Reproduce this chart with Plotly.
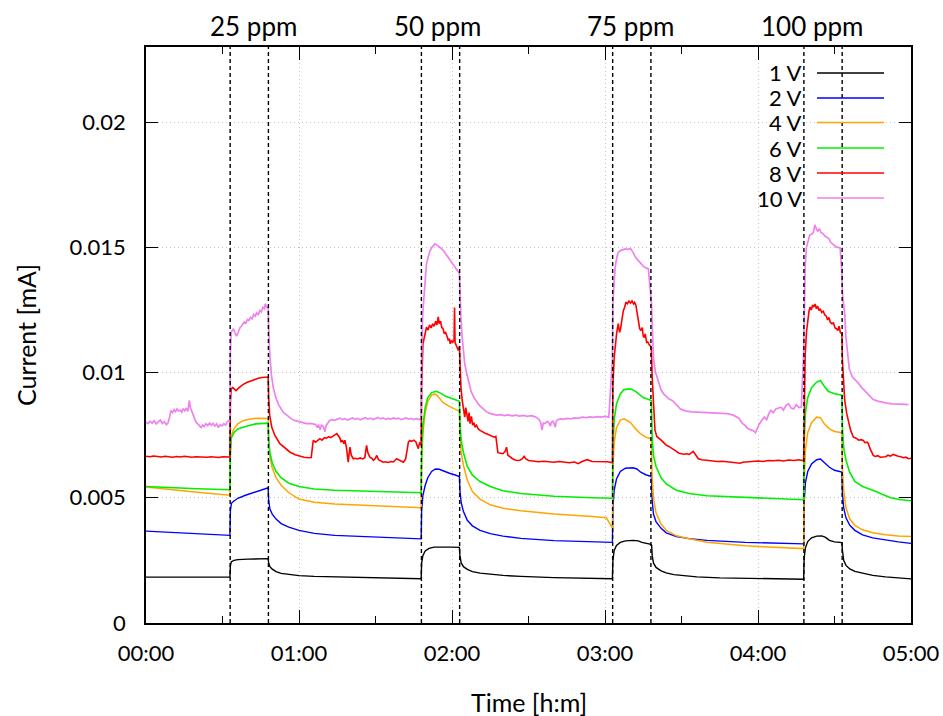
import plotly.graph_objects as go

# Time axis in minutes since start, currents in microamps (converted to mA for plotting)
t_1v = [0, 10, 20, 32.9, 33.1, 33.5, 34.5, 36, 40, 44, 47.9,
        48.1, 48.6, 49.5, 51, 53, 56, 60, 66, 76, 90, 107.9,
        108.1, 108.6, 109.5, 111, 113, 117, 120, 122.9,
        123.1, 123.6, 124.5, 126, 128, 131, 135, 140, 147, 160, 182.9,
        183.1, 183.6, 184.5, 186, 188, 191, 193, 194.5, 196, 198, 198.3,
        198.5, 199, 200, 202, 204, 207, 211, 216, 225, 240, 257.9,
        258.1, 258.6, 259.5, 261, 263, 265, 266.5, 268, 270, 272.9,
        273.1, 273.6, 274.5, 276, 278, 281, 285, 290, 295, 300]
i_1v = [1.83, 1.83, 1.83, 1.83, 2.30, 2.45, 2.50, 2.53, 2.55, 2.57, 2.57,
        2.40, 2.25, 2.15, 2.05, 1.98, 1.93, 1.89, 1.86, 1.84, 1.80, 1.77,
        2.40, 2.70, 2.88, 2.98, 3.03, 3.04, 3.03, 3.02,
        2.70, 2.40, 2.25, 2.14, 2.05, 1.99, 1.94, 1.90, 1.86, 1.81, 1.77,
        2.50, 2.90, 3.10, 3.22, 3.28, 3.30, 3.28, 3.22, 3.18, 3.14, 3.10,
        2.70, 2.40, 2.22, 2.08, 2.00, 1.93, 1.88, 1.84, 1.80, 1.77, 1.75,
        2.60, 3.00, 3.25, 3.40, 3.47, 3.48, 3.42, 3.30, 3.24, 3.21,
        2.90, 2.50, 2.30, 2.16, 2.06, 1.98, 1.90, 1.84, 1.79, 1.76]

t_2v = [0, 10, 20, 32.9, 33.1, 33.5, 34.5, 36, 39, 42, 45, 47.9,
        48.1, 48.6, 49.5, 51, 53, 56, 60, 66, 74, 90, 107.9,
        108.1, 108.6, 109.5, 110.5, 112, 113.5, 115, 117, 119, 121, 122.9,
        123.1, 123.6, 124.5, 126, 128, 131, 135, 140, 147, 160, 182.9,
        183.1, 183.6, 184.5, 186, 188, 191, 192.5, 194, 196, 198.2,
        198.5, 199, 200, 202, 204, 208, 213, 220, 235, 257.9,
        258.1, 258.6, 259.5, 261, 263, 264.5, 266, 268, 270, 272.9,
        273.1, 273.6, 274.5, 276, 278, 281, 285, 290, 295, 300]
i_2v = [3.67, 3.61, 3.56, 3.50, 4.50, 4.78, 4.87, 4.98, 5.10, 5.20, 5.30, 5.40,
        4.90, 4.55, 4.35, 4.15, 3.97, 3.83, 3.70, 3.58, 3.50, 3.42, 3.36,
        4.50, 5.10, 5.50, 5.80, 6.05, 6.15, 6.14, 6.05, 5.98, 5.92, 5.85,
        5.30, 4.80, 4.45, 4.10, 3.88, 3.70, 3.57, 3.47, 3.38, 3.29, 3.22,
        4.60, 5.30, 5.75, 6.05, 6.18, 6.20, 6.15, 6.02, 5.92, 5.85,
        4.90, 4.35, 4.05, 3.78, 3.60, 3.45, 3.37, 3.30, 3.22, 3.16,
        4.80, 5.60, 6.05, 6.35, 6.52, 6.55, 6.42, 6.22, 6.10, 6.03,
        5.20, 4.60, 4.20, 3.90, 3.70, 3.52, 3.40, 3.31, 3.24, 3.18]

t_4v = [0, 10, 20, 32.9, 33.1, 33.5, 34.5, 36, 38, 41, 44, 47.9,
        48.1, 48.6, 49.5, 51, 53, 56, 60, 66, 74, 90, 107.9,
        108.1, 108.6, 109.5, 110.5, 112, 113.3, 114.5, 116.5, 119, 121, 122.9,
        123.1, 123.6, 124.5, 126, 128, 131, 135, 140, 147, 160, 175, 180.5, 182, 182.9,
        183.1, 183.6, 184.5, 186, 187.5, 190, 192, 194, 196, 198.2,
        198.5, 199, 200, 202, 204, 208, 213, 220, 235, 257.9,
        258.1, 258.6, 259.5, 261, 263, 264.5, 266, 268, 270, 272.9,
        273.1, 273.6, 274.5, 276, 278, 281, 285, 290, 295, 300]
i_4v = [5.43, 5.32, 5.22, 5.10, 6.90, 7.50, 7.75, 7.95, 8.08, 8.15, 8.18, 8.17,
        7.30, 6.60, 6.20, 5.80, 5.50, 5.20, 4.95, 4.82, 4.75, 4.68, 4.60,
        6.50, 7.60, 8.40, 8.85, 9.10, 9.15, 9.05, 8.80, 8.65, 8.55, 8.45,
        7.60, 6.80, 6.30, 5.70, 5.25, 4.95, 4.72, 4.58, 4.48, 4.35, 4.25, 4.20, 3.95, 3.80,
        6.20, 7.20, 7.80, 8.10, 8.15, 8.00, 7.75, 7.55, 7.42, 7.35,
        5.80, 5.00, 4.40, 3.95, 3.70, 3.48, 3.36, 3.22, 3.08, 2.97,
        5.60, 6.90, 7.60, 8.00, 8.22, 8.20, 7.95, 7.75, 7.65, 7.60,
        6.20, 5.30, 4.60, 4.15, 3.90, 3.72, 3.60, 3.52, 3.47, 3.45]

t_6v = [0, 10, 20, 32.9, 33.1, 33.5, 34.5, 36, 39, 43, 47.9,
        48.1, 48.6, 49.5, 51, 53, 56, 60, 66, 74, 90, 107.9,
        108.1, 108.6, 109.5, 110.5, 112, 113.8, 115.5, 117.5, 119.5, 121, 122.9,
        123.1, 123.6, 124.5, 126, 128, 131, 135, 140, 147, 160, 175, 182.9,
        183.1, 183.6, 184.5, 186, 187.5, 190, 192, 193.5, 195, 198.2,
        198.5, 199, 200, 202, 204, 208, 213, 220, 230, 245, 257.9,
        258.1, 258.6, 259.5, 261, 263, 264.5, 266, 267.5, 270, 272.9,
        273.1, 273.6, 274.5, 276, 278, 281, 285, 288, 292, 296, 300]
i_6v = [5.45, 5.40, 5.36, 5.32, 6.80, 7.40, 7.60, 7.75, 7.85, 7.95, 7.98,
        7.30, 6.80, 6.40, 6.05, 5.80, 5.58, 5.45, 5.35, 5.30, 5.25, 5.20,
        6.80, 7.90, 8.60, 9.00, 9.20, 9.25, 9.18, 9.05, 8.98, 8.92, 8.85,
        8.00, 7.30, 6.80, 6.25, 5.90, 5.65, 5.45, 5.28, 5.17, 5.06, 5.00, 4.98,
        7.00, 8.10, 8.75, 9.15, 9.32, 9.35, 9.25, 9.12, 9.00, 8.88,
        7.40, 6.70, 6.25, 5.80, 5.55, 5.30, 5.17, 5.08, 5.03, 4.98, 4.92,
        7.20, 8.40, 9.00, 9.40, 9.62, 9.68, 9.45, 9.25, 9.15, 9.10,
        7.80, 7.00, 6.50, 6.00, 5.65, 5.45, 5.30, 5.18, 5.00, 4.92, 4.88]

t_8v = [0, 1.5, 3, 4.5, 6, 7.5, 9, 10.5, 12, 13.5, 15, 16.5, 18, 19.5, 21, 22.5,
        24, 25.5, 27, 28.5, 30, 31.5, 32.9,
        33.1, 33.4, 34, 35.3, 36.5, 38, 39.5, 41, 42.5, 44, 45.5, 47, 47.9,
        48.1, 48.5, 49.3, 50.5, 52.5, 54.5, 56.5, 58.5, 60.4, 62, 63.5, 64.8,
        65.3, 65.6, 66.5, 67.3, 68.2, 69, 70, 70.8, 71.7, 72.5, 73.5, 74.2, 74.8,
        75.4, 76, 76.5, 77, 77.6, 78, 78.6, 79.3, 79.7, 80, 80.5, 81.3, 82, 83,
        84, 85, 85.8, 86.5, 87, 87.8, 88.5, 89.2, 90, 90.5, 91.2, 92, 93, 94, 95,
        96, 97, 98.3, 99.2, 100, 101, 101.8, 102.4, 102.9, 103.5, 104.2, 105,
        105.8, 106.3, 106.8, 107.2, 107.5, 107.9,
        108.1, 108.6, 109.2, 110, 110.6, 111.2, 111.8, 112.4, 113, 113.6, 114.1,
        114.6, 115, 115.5, 116, 116.5, 117, 117.5, 118, 118.5, 119, 119.3, 119.8,
        120.3, 120.8, 121, 121.2, 121.7, 122.2, 122.5, 122.9,
        123.1, 123.5, 124, 124.5, 125, 125.4, 125.8, 126.3, 126.7, 127.1, 127.6,
        128.1, 128.6, 129, 129.6, 130.3, 131, 132, 133, 133.6, 134.5, 135.5,
        136.5, 137.2, 137.6, 138, 139, 140, 140.8, 141.4, 141.9, 142.7, 143.5,
        144.5, 145.5, 146.6, 147.5, 148.3, 148.9, 150, 152, 154, 156, 158, 160,
        162, 164, 166, 168, 169.5, 171, 173, 175, 177, 179, 181, 182.9,
        183.1, 183.6, 184.1, 184.6, 185.2, 185.7, 186.1, 186.6, 187.2, 187.7,
        188.2, 188.8, 189.4, 190, 190.6, 191.2, 191.6, 192.1, 192.6, 193.2,
        193.6, 194.1, 194.6, 195, 195.4, 195.8, 196.3, 196.8, 197.3, 197.8, 198.2,
        198.5, 199, 199.6, 200.3, 201, 202, 203, 204, 205, 206, 207, 208, 209,
        210, 211, 212, 213, 214, 214.6, 215.3, 216.6, 218, 219.5, 221, 222.5,
        224, 226, 228, 230, 232, 233, 234, 236, 238, 240, 242, 244, 246, 248,
        250, 252, 254, 256, 257.9,
        258.1, 258.5, 259, 259.5, 260, 260.4, 260.9, 261.4, 261.9, 262.4, 262.9,
        263.4, 263.9, 264.4, 265, 265.6, 266.2, 266.8, 267.3, 267.8, 268.4, 269,
        269.6, 270.2, 270.8, 271.3, 271.8, 272.3, 272.9,
        273.1, 273.5, 274, 274.8, 275.5, 276.3, 277.4, 278.5, 279.5, 280.5,
        281.3, 282, 282.8, 283.3, 284, 284.6, 285.2, 286, 287, 288, 289, 290,
        291, 292, 293, 294, 295, 296, 297, 298, 299, 300]
i_8v = [6.66, 6.64, 6.67, 6.65, 6.63, 6.66, 6.64, 6.62, 6.65, 6.63, 6.66, 6.64,
        6.62, 6.64, 6.63, 6.65, 6.62, 6.64, 6.63, 6.61, 6.64, 6.62, 6.63,
        8.80, 9.35, 9.40, 9.28, 9.40, 9.52, 9.60, 9.66, 9.72, 9.77, 9.80, 9.83, 9.82,
        9.00, 8.30, 7.82, 7.50, 7.16, 6.97, 6.82, 6.72, 6.65, 6.62, 6.60, 6.61,
        7.05, 7.29, 7.22, 7.30, 7.36, 7.30, 7.40, 7.38, 7.44, 7.40, 7.49, 7.52, 7.56,
        7.45, 7.40, 7.22, 7.30, 7.16, 7.30, 7.00, 6.42, 6.80, 7.02, 6.70, 6.56, 6.58, 6.55,
        6.59, 6.55, 6.60, 7.09, 6.80, 6.62, 6.58, 6.50, 6.58, 6.69, 6.52, 6.48, 6.42, 6.44, 6.41,
        6.45, 6.43, 6.56, 6.50, 6.47, 6.42, 6.55, 6.90, 7.22, 7.29, 7.25, 7.30,
        7.24, 7.10, 6.96, 7.15, 7.22, 7.10,
        9.50, 11.15, 11.50, 11.81, 11.70, 11.90, 11.78, 11.95, 11.85, 12.05, 11.90,
        12.22, 11.95, 12.05, 11.80, 11.75, 11.55, 11.60, 11.46, 11.30, 11.35, 11.15, 11.28,
        11.20, 11.30, 12.60, 11.20, 11.10, 11.00, 10.88, 11.05,
        10.20, 9.42, 8.90, 8.50, 8.22, 8.60, 8.30, 8.05, 8.40, 7.96, 8.25,
        7.90, 8.00, 7.82, 7.90, 7.75, 7.69, 7.62, 7.58, 7.56, 7.52, 7.45,
        7.42, 7.45, 7.05, 6.80, 6.78, 6.76, 6.85, 7.02, 6.70, 6.62, 6.58,
        6.52, 6.49, 6.50, 6.55, 6.65, 6.56, 6.49, 6.46, 6.44, 6.46, 6.43, 6.42,
        6.45, 6.43, 6.40, 6.43, 6.36, 6.45, 6.52, 6.45, 6.44, 6.42, 6.44, 6.40,
        9.50, 10.60, 11.15, 11.60, 11.95, 11.60, 11.75, 12.20, 12.48, 12.60,
        12.81, 12.75, 12.85, 12.78, 12.86, 12.74, 12.80, 12.70, 12.30, 12.00,
        11.75, 11.68, 11.80, 11.45, 11.40, 11.55, 11.20, 11.22, 11.12, 11.08, 11.01,
        9.80, 8.60, 7.70, 7.45, 7.40, 7.30, 7.20, 7.10, 7.05, 7.00, 6.92, 6.85, 6.78,
        6.76, 6.74, 6.76, 6.73, 6.80, 6.85, 6.75, 6.56, 6.52, 6.50, 6.47, 6.48,
        6.45, 6.46, 6.44, 6.43, 6.41, 6.38, 6.42, 6.44, 6.46, 6.47, 6.45, 6.49, 6.48, 6.50,
        6.47, 6.51, 6.49, 6.52, 6.48,
        9.00, 10.70, 11.60, 12.10, 12.45, 12.61, 12.50, 12.70, 12.62, 12.74, 12.55,
        12.65, 12.48, 12.55, 12.40, 12.45, 12.30, 12.25, 12.10, 12.20, 12.00, 11.95,
        11.98, 11.78, 11.75, 11.68, 11.85, 11.60, 11.55,
        10.50, 9.50, 8.90, 8.36, 8.00, 7.70, 7.42, 7.38, 7.30, 7.32,
        7.29, 7.20, 7.22, 7.16, 6.95, 6.78, 6.69, 6.65, 6.68, 6.62, 6.62, 6.64,
        6.70, 6.66, 6.73, 6.68, 6.66, 6.64, 6.60, 6.62, 6.56, 6.58]

t_10v = [0, 0.8, 1.6, 2.4, 3.2, 4, 4.8, 5.6, 6.4, 7.2, 8, 8.6, 9.2, 9.8, 10.4,
         11, 11.6, 12.2, 12.8, 13.4, 14, 14.6, 15.2, 15.8, 16.4, 17, 17.4, 17.8,
         18.3, 18.9, 19.6, 20.3, 21, 21.6, 22.2, 22.8, 23.5, 24.2, 24.9, 25.6,
         26.3, 27, 27.7, 28.4, 29.1, 29.8, 30.5, 31.2, 31.8, 32.5, 32.9,
         33.1, 33.4, 33.8, 34.3, 34.8, 35.5, 36.2, 36.8, 37.4, 38, 38.6, 39.2,
         39.8, 40.4, 41, 41.6, 42.2, 42.8, 43.4, 44, 44.6, 45.2, 45.8, 46.4,
         46.8, 47.3, 47.9,
         48.1, 48.6, 49.2, 50, 51, 52, 53, 54, 55.5, 57, 58.5, 60, 61.6, 63,
         64.5, 65.6, 66.5, 67.2, 67.6, 68.3, 68.8, 69.5, 70.2, 70.6, 71.3, 72,
         73, 74, 75, 76, 77, 78, 79, 80, 81, 82, 83, 84, 85, 86, 87, 88, 89, 90,
         91, 92, 93, 94, 95, 96, 97, 98, 99, 100, 101, 102, 103, 104, 105, 106,
         107, 107.9,
         108.1, 108.5, 109, 109.5, 110, 110.7, 111.4, 112.3, 113.3, 114.3, 115.3,
         116.2, 117.1, 118, 119, 120, 120.5, 121.5, 122.3, 122.9,
         123.1, 123.5, 124, 124.5, 125, 125.8, 126.5, 127.5, 128.5, 129.5, 130.5,
         131.5, 132.5, 133.5, 134.5, 136, 137.5, 139, 140.5, 142, 143.5, 145,
         146.5, 148, 149.5, 151, 152.5, 153.5, 154.3, 154.8, 155.3, 155.8, 156.5,
         157.3, 158, 158.6, 159, 159.7, 160.5, 161, 161.5, 162.5, 163.6, 165,
         166.5, 168, 169.5, 171, 172.7, 174, 175.5, 177, 178.5, 180, 181.5, 182.9,
         183.1, 183.6, 184, 184.6, 185.2, 186, 187.2, 188, 189, 190, 191, 192,
         193, 194, 195, 196, 197, 198.2,
         198.5, 199, 199.7, 200.4, 201, 202, 203, 204, 205, 206.5, 208, 209.5,
         210.7, 212, 214, 216, 218, 220, 222, 224, 226, 228, 230.3, 231.5, 232.5,
         233.3, 234, 235, 236, 237, 238, 239, 239.5, 240, 240.5, 241.5, 242.5,
         243.4, 244.2, 245, 246, 247, 248, 249, 250, 251, 252, 253, 254, 255,
         256, 257, 257.9,
         258.1, 258.5, 259, 259.7, 260.3, 261, 261.7, 262.3, 263, 263.5, 264,
         264.8, 265.5, 266.2, 267, 267.8, 268.5, 269.3, 270, 270.6, 271.4, 272.2,
         272.9,
         273.1, 273.5, 274, 274.5, 275.2, 275.8, 277, 279, 280.5, 282.6, 284,
         285.2, 287, 288.5, 290.5, 292.5, 294.4, 296, 297.5, 299, 300]
i_10v = [8.02, 7.96, 8.06, 7.98, 8.08, 7.95, 8.03, 8.10, 7.97, 8.04, 7.92, 7.98,
         8.20, 8.49, 8.40, 8.52, 8.44, 8.55, 8.46, 8.50, 8.42, 8.56, 8.47, 8.58,
         8.45, 8.89, 8.60, 8.50, 8.36, 8.20, 8.02, 7.95, 7.88, 7.80, 7.90, 7.84,
         7.96, 7.88, 7.98, 7.90, 7.97, 7.86, 7.95, 7.80, 7.92, 7.87, 7.96, 7.90,
         8.02, 8.09, 8.12,
         10.80, 11.60, 11.68, 11.75, 11.60, 11.45, 11.62, 11.78, 11.85, 11.95,
         12.02, 11.98, 12.12, 12.08, 12.20, 12.15, 12.32, 12.25, 12.38, 12.30,
         12.48, 12.42, 12.60, 12.55, 12.75, 12.60, 12.62,
         11.80, 10.62, 9.90, 9.35, 8.98, 8.72, 8.55, 8.40, 8.28, 8.15, 8.08, 8.04,
         7.98, 7.96, 7.97, 7.95, 7.93, 7.80, 7.92, 7.72, 7.90, 7.85, 7.64, 7.88,
         7.97, 8.09,
         8.12, 8.09, 8.14, 8.18, 8.12, 8.16, 8.10, 8.15, 8.19, 8.13, 8.17, 8.11,
         8.16, 8.20, 8.14, 8.18, 8.12, 8.17, 8.21, 8.15, 8.19, 8.13, 8.17, 8.14,
         8.19, 8.15, 8.18, 8.12, 8.16, 8.19, 8.14, 8.17, 8.12, 8.16, 8.13, 8.15,
         10.50, 12.30, 13.01, 13.70, 14.34, 14.62, 14.87, 15.02, 15.14, 15.08,
         15.00, 14.92, 14.80, 14.67, 14.55, 14.42, 14.34, 14.20, 14.05, 13.94,
         13.00, 12.20, 11.40, 10.80, 10.35, 9.95, 9.60, 9.25, 9.02, 8.85, 8.72,
         8.62, 8.52, 8.44, 8.38, 8.33, 8.30, 8.32, 8.28, 8.31, 8.27, 8.30, 8.26,
         8.29, 8.25, 8.28, 8.24, 8.18, 8.10, 8.00, 7.70, 7.98, 7.96, 8.05, 7.99,
         7.86, 8.02, 8.06, 7.82, 8.08, 8.12, 8.15, 8.13, 8.17, 8.15, 8.19, 8.17,
         8.22, 8.20, 8.23, 8.21, 8.24, 8.22, 8.25, 8.22,
         10.50, 12.80, 13.66, 14.20, 14.60, 14.80, 14.87, 14.90, 14.94, 14.92,
         14.95, 14.80, 14.60, 14.48, 14.34, 14.25, 14.18, 14.14,
         12.80, 11.68, 10.60, 10.05, 9.82, 9.55, 9.30, 9.15, 9.05, 8.95, 8.88,
         8.70, 8.55, 8.50, 8.46, 8.43, 8.42, 8.40, 8.41, 8.38, 8.39, 8.37, 8.36,
         8.30, 8.24, 8.18, 8.05, 7.96, 7.88, 7.76, 7.72, 7.69, 7.60, 7.72, 7.84,
         7.95, 8.10, 8.22, 8.12, 8.35, 8.49, 8.40, 8.55, 8.60, 8.62, 8.50, 8.70,
         8.75, 8.58, 8.55, 8.72, 8.60, 8.62,
         10.80, 13.00, 14.20, 15.00, 15.30, 15.50, 15.52, 15.60, 15.90, 15.70,
         15.65, 15.75, 15.58, 15.55, 15.45, 15.40, 15.35, 15.20, 15.12, 15.07,
         15.02, 15.00, 14.98,
         14.00, 13.20, 12.80, 12.35, 11.40, 10.62, 10.15, 9.82, 9.62, 9.42, 9.18,
         9.02, 8.92, 8.86, 8.82, 8.78, 8.75, 8.76, 8.74, 8.73, 8.72]

# Gas exposure windows (start/end, minutes) and their concentration labels
exposure_bounds = [33, 48, 108, 123, 183, 198, 258, 273]
ppm_labels = ["25 ppm", "50 ppm", "75 ppm", "100 ppm"]
ppm_label_pos = [42, 114.5, 190, 261]

x_tick_vals = [0, 60, 120, 180, 240, 300]
x_tick_text = ["00:00", "01:00", "02:00", "03:00", "04:00", "05:00"]
y_tick_vals = [0, 0.005, 0.01, 0.015, 0.02]
y_tick_text = ["0", "0.005", "0.01", "0.015", "0.02"]

series = [
    ("1 V", t_1v, i_1v, "#000000", 1.4),
    ("2 V", t_2v, i_2v, "#0000ff", 1.4),
    ("4 V", t_4v, i_4v, "#ffa500", 1.5),
    ("6 V", t_6v, i_6v, "#00f000", 1.6),
    ("8 V", t_8v, i_8v, "#ff0000", 1.6),
    ("10 V", t_10v, i_10v, "#ee82ee", 1.7),
]

FONT = "Lato, 'Open Sans', sans-serif"
W, H = 943, 716
L, R, T, B = 146, 32, 47, 93
pw, ph = W - L - R, H - T - B


def px_x(x):
    return (x - L) / pw


def px_y(y):
    return (H - B - y) / ph


fig = go.Figure()
for name, t, cur, color, lw in series:
    fig.add_trace(go.Scatter(
        x=t, y=[c / 1000.0 for c in cur], mode="lines", name=name,
        line=dict(color=color, width=lw), showlegend=False,
    ))

shapes = []
for xb in exposure_bounds:
    shapes.append(dict(type="line", xref="x", yref="paper", x0=xb, x1=xb,
                       y0=0, y1=1, layer="above",
                       line=dict(color="black", width=1.4, dash="4px,3px")))

annotations = []
for lab, xp in zip(ppm_labels, ppm_label_pos):
    annotations.append(dict(text=lab, x=xp, xref="x", y=px_y(26),
                            yref="paper", showarrow=False, xanchor="center",
                            yanchor="middle", font=dict(size=26, family=FONT, color="black")))

# Key drawn gnuplot-style: right-aligned labels with a line sample to their right
legend_rows = [73, 98, 122.5, 148, 173, 198]
for (name, _, _, color, _), ry in zip(series, legend_rows):
    annotations.append(dict(text=name, x=px_x(804), y=px_y(ry), xref="paper",
                            yref="paper", showarrow=False, xanchor="right",
                            yanchor="middle", font=dict(size=22, family=FONT, color="black")))
    shapes.append(dict(type="line", xref="paper", yref="paper",
                       x0=px_x(817), x1=px_x(884), y0=px_y(ry), y1=px_y(ry),
                       line=dict(color=color, width=1.3)))

annotations.append(dict(text="Time [h:m]", x=0.5, y=px_y(702), xref="paper",
                        yref="paper", showarrow=False, xanchor="center", yanchor="middle",
                        font=dict(size=25, family=FONT, color="black")))
annotations.append(dict(text="Current [mA]", x=px_x(26), y=0.5, xref="paper",
                        yref="paper", showarrow=False, xanchor="center", yanchor="middle",
                        textangle=-90, font=dict(size=25, family=FONT, color="black")))

fig.update_layout(
    width=W, height=H,
    margin=dict(l=L, r=R, t=T, b=B, pad=0),
    paper_bgcolor="white", plot_bgcolor="white",
    font=dict(family=FONT, size=22, color="black"),
    shapes=shapes, annotations=annotations,
    showlegend=False,
)
fig.update_xaxes(
    range=[0, 300], tickvals=x_tick_vals, ticktext=x_tick_text,
    ticks="inside", ticklen=13, tickwidth=1, tickcolor="black",
    showline=True, linecolor="black", linewidth=1.5, mirror="ticks",
    showgrid=True, gridcolor="#c4c4c4", gridwidth=1, griddash="1px,3px",
    zeroline=False, ticklabelstandoff=10, automargin=False,
    tickfont=dict(size=22, family=FONT, color="black"),
    minor=dict(tickvals=[30, 90, 150, 210, 270], ticks="inside", ticklen=7,
               tickcolor="black", tickwidth=1, showgrid=False),
)
fig.update_yaxes(
    range=[0, 0.023], tickvals=y_tick_vals, ticktext=y_tick_text,
    ticks="inside", ticklen=12, tickwidth=1, tickcolor="black",
    showline=True, linecolor="black", linewidth=1.5, mirror="ticks",
    showgrid=True, gridcolor="#c4c4c4", gridwidth=1, griddash="1px,3px",
    zeroline=False, ticklabelstandoff=14, automargin=False,
    tickfont=dict(size=22, family=FONT, color="black"),
)

fig.write_html("out.html")
